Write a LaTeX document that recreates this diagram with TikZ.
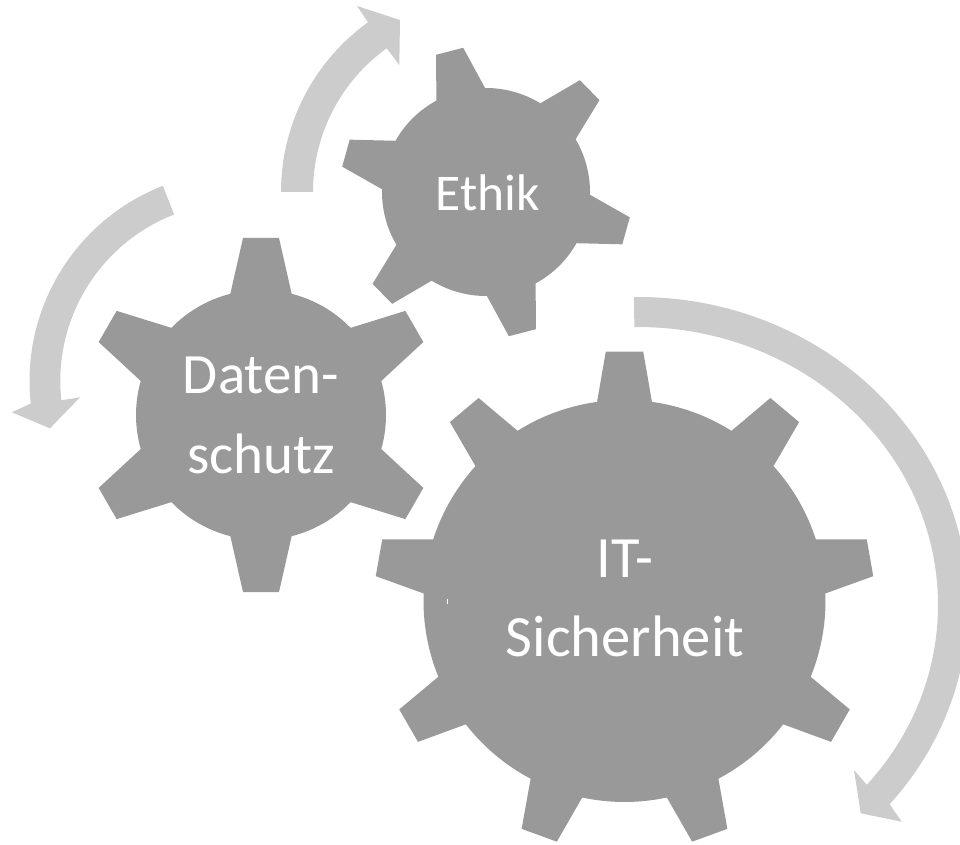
\documentclass[tikz,border=0pt]{standalone}
\usepackage{fontspec}
\setmainfont{Carlito}
\usepackage{tikz}
\usepackage{xcolor}
\usetikzlibrary{calc}

\definecolor{gearfill}{HTML}{999999}
\definecolor{arrowfill}{HTML}{CCCCCC}

% #1 centre, #2 teeth, #3 first tooth angle, #4 root radius,
% #5 tip radius, #6 half angle at root, #7 half angle at tip
\newcommand{\gearwheel}[7]{%
  \fill[gearbody, shift={#1}]
    ({#3-#6}:#4)
    \foreach \k in {1,...,#2}{
      -- ({#3+(\k-1)*360/#2-#6}:#4) -- ({#3+(\k-1)*360/#2-#7}:#5)
      -- ({#3+(\k-1)*360/#2+#7}:#5) -- ({#3+(\k-1)*360/#2+#6}:#4)
      arc[start angle={#3+(\k-1)*360/#2+#6},
          end angle={#3+\k*360/#2-#6}, radius=#4]
    } -- cycle;}

\begin{document}
\begin{tikzpicture}[x=1pt, y=1pt,
    gearbody/.style={fill=gearfill},
    turnarrow/.style={fill=arrowfill},
    gearlabel/.style={text=white, align=center, anchor=base}]
  \clip (0,0) rectangle (960,844);

  % curved arrows
  \coordinate (ca) at (490,652);
  \coordinate (cb) at (239,463);
  \coordinate (cc) at (638,239);
  \fill[turnarrow] ($(ca)+(180:209)$)
    arc[start angle=180, end angle=125.7, radius=209]
    -- (357,838) -- (400,824) -- (399.3,779)
    -- ($(ca)+(125.7:177)$)
    arc[start angle=125.7, end angle=180, radius=177] -- cycle;
  \fill[turnarrow] ($(cb)+(111.3:209.5)$)
    arc[start angle=111.3, end angle=186.2, radius=209.5]
    -- (11.7,431.7) -- (50,415.7) -- (80,446.7)
    -- ($(cb)+(186.2:178.7)$)
    arc[start angle=186.2, end angle=111.3, radius=178.7] -- cycle;
  \fill[turnarrow] ($(cc)+(90.7:330 and 308)$)
    arc[start angle=90.7, end angle=-40.3, x radius=330, y radius=308]
    -- (901.7,22.3) -- (860.7,30.7) -- (854,74)
    -- ($(cc)+(-40.3:300 and 278)$)
    arc[start angle=-40.3, end angle=90.7, x radius=300, y radius=278] -- cycle;

  % the three wheels
  \gearwheel{(486,652)}{6}{44.5}{104}{146}{14}{5.5}
  \gearwheel{(261,429)}{6}{30}{125}{178}{14.2}{5.8}
  \gearwheel{(624.5,243)}{9}{10}{201}{250}{7.85}{4.3}
  \draw[white, line width=1] (447.3,240) -- (447.3,244.7);

  % labels, anchored on the baseline of the last line
  \node[gearlabel, font=\fontsize{51.5}{80}\selectfont] (ethik) at (488,633) {Ethik};
  \node[gearlabel, font=\fontsize{57}{80}\selectfont] (daten) at (261,370.7) {Daten-\\schutz};
  \node[gearlabel, font=\fontsize{58.5}{79}\selectfont] (itsec) at (625,188) {IT-\\Sicherheit};
\end{tikzpicture}
\end{document}
